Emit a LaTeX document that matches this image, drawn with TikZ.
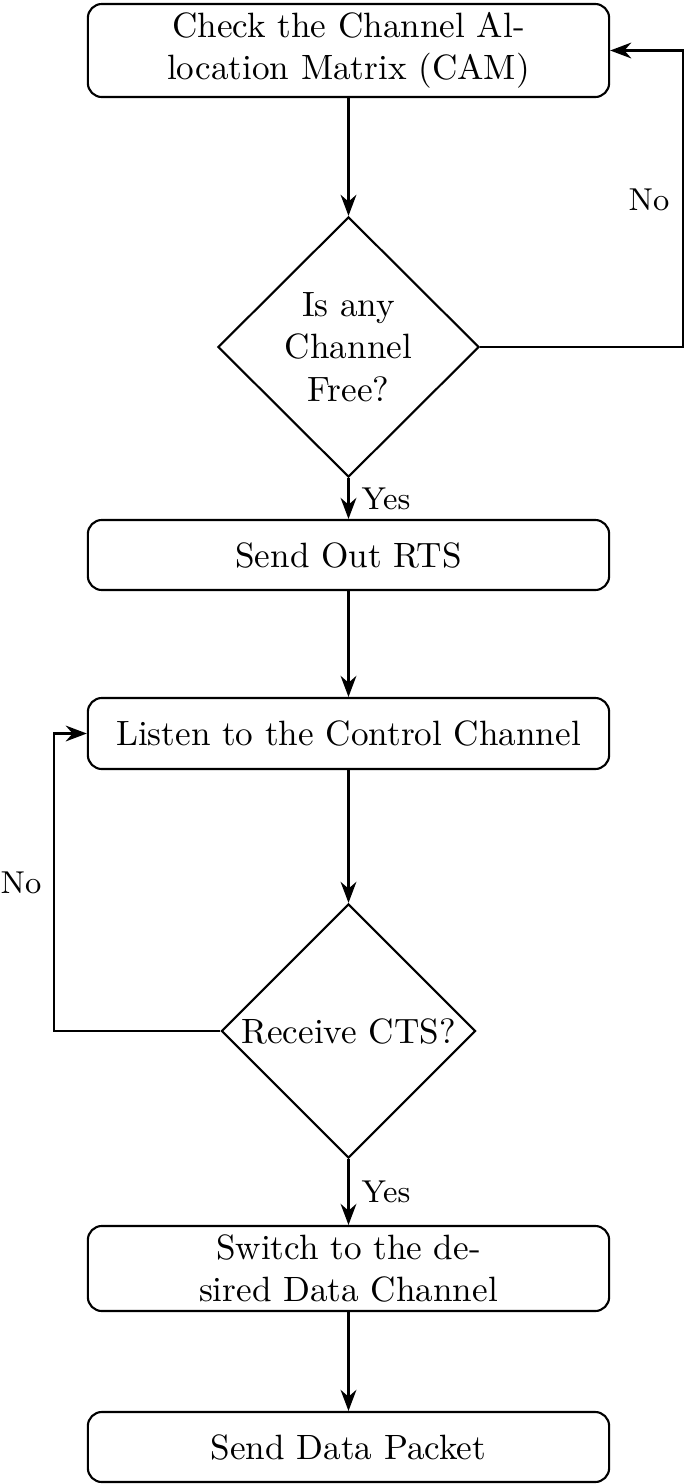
\documentclass[tikz,border=0pt]{standalone}
\usetikzlibrary{shapes.geometric,arrows.meta}
\begin{document}
\begin{tikzpicture}[x=0.01cm,y=-0.01cm,
  procbox/.style={draw,rounded corners=4pt,minimum width=5.21cm,align=center,inner sep=0pt,semithick},
  decbox/.style={draw,diamond,inner sep=0pt,align=center,semithick},
  conn/.style={-{Stealth[length=6pt,width=4.5pt]},semithick},
  lbl/.style={font=\small}]
\useasboundingbox (0,0) rectangle (685,1484);
\node[procbox,minimum height=0.93cm] (cam) at (348.5,50.5) {Check the Channel Al-\\location Matrix (CAM)};
\node[decbox,minimum width=2.61cm,minimum height=2.6cm] (free) at (348.5,347) {Is any\\Channel\\Free?};
\node[procbox,minimum height=0.70cm] (rts) at (348.5,555) {Send Out RTS};
\node[procbox,minimum height=0.71cm] (listen) at (348.5,733.5) {Listen to the Control Channel};
\node[decbox,minimum width=2.54cm,minimum height=2.54cm] (cts) at (348.5,1031) {Receive CTS?};
\node[procbox,minimum height=0.85cm] (switch) at (348.5,1268.5) {Switch to the de-\\sired Data Channel};
\node[procbox,minimum height=0.70cm] (send) at (348.5,1447) {Send Data Packet};
\coordinate (r1) at (683,347);
\coordinate (r2) at (683,50.5);
\coordinate (l1) at (54,1031);
\coordinate (l2) at (54,733.5);
\draw[conn] (cam) -- (free);
\draw[conn] (free.east) -- (r1) -- (r2) -- (cam.east);
\node[lbl] (no1) at (649,200) {No};
\draw[conn] (free) -- (rts);
\node[lbl] (yes1) at (386,499) {Yes};
\draw[conn] (rts) -- (listen);
\draw[conn] (listen) -- (cts);
\draw[conn] (cts.west) -- (l1) -- (l2) -- (listen.west);
\node[lbl] (no2) at (21,883) {No};
\draw[conn] (cts) -- (switch);
\node[lbl] (yes2) at (386,1192) {Yes};
\draw[conn] (switch) -- (send);
\end{tikzpicture}
\end{document}
